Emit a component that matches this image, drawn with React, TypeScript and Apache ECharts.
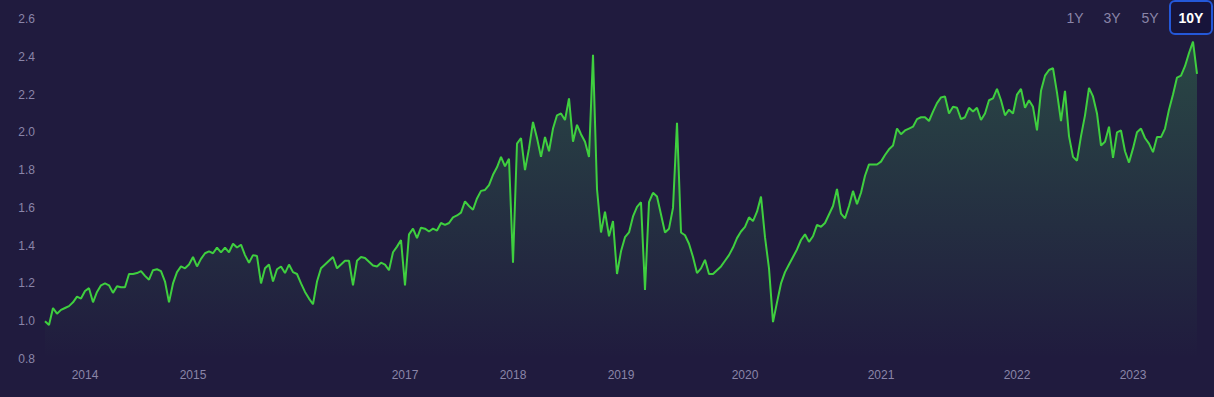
import React, { useEffect, useRef } from 'react';
import * as echarts from 'echarts';

const values: number[] = [
  1.0, 0.98, 1.07, 1.04, 1.06, 1.07, 1.08, 1.10, 1.13, 1.12,
  1.16, 1.175, 1.10, 1.155, 1.19, 1.20, 1.19, 1.15, 1.185, 1.18,
  1.18, 1.25, 1.25, 1.255, 1.265, 1.24, 1.22, 1.27, 1.275, 1.265,
  1.21, 1.10, 1.20, 1.26, 1.29, 1.28, 1.30, 1.34, 1.29, 1.33,
  1.36, 1.37, 1.36, 1.39, 1.365, 1.39, 1.365, 1.41, 1.39, 1.405,
  1.35, 1.31, 1.35, 1.345, 1.20, 1.28, 1.30, 1.21, 1.275, 1.29,
  1.255, 1.30, 1.26, 1.25, 1.20, 1.155, 1.12, 1.09, 1.21, 1.28,
  1.30, 1.32, 1.34, 1.28, 1.30, 1.32, 1.32, 1.19, 1.32, 1.34,
  1.335, 1.315, 1.295, 1.29, 1.31, 1.30, 1.27, 1.365, 1.395, 1.43,
  1.19, 1.46, 1.49, 1.44, 1.495, 1.49, 1.475, 1.49, 1.48, 1.52,
  1.51, 1.52, 1.55, 1.56, 1.575, 1.635, 1.61, 1.59, 1.65, 1.69,
  1.695, 1.72, 1.775, 1.815, 1.87, 1.82, 1.86, 1.31, 1.94, 1.97,
  1.80, 1.915, 2.055, 1.97, 1.87, 1.975, 1.90, 2.02, 2.09, 2.10,
  2.065, 2.18, 1.95, 2.04, 1.99, 1.95, 1.87, 2.41, 1.70, 1.47,
  1.58, 1.45, 1.53, 1.25, 1.37, 1.445, 1.47, 1.555, 1.605, 1.63,
  1.165, 1.63, 1.68, 1.66, 1.565, 1.47, 1.49, 1.60, 2.05, 1.47,
  1.455, 1.41, 1.34, 1.255, 1.28, 1.325, 1.25, 1.25, 1.27, 1.29,
  1.32, 1.35, 1.39, 1.44, 1.475, 1.50, 1.55, 1.53, 1.58, 1.66,
  1.445, 1.28, 0.995, 1.10, 1.20, 1.26, 1.30, 1.34, 1.38, 1.43,
  1.46, 1.42, 1.45, 1.51, 1.50, 1.52, 1.565, 1.61, 1.70, 1.57,
  1.545, 1.61, 1.69, 1.62, 1.68, 1.77, 1.83, 1.83, 1.83, 1.845,
  1.88, 1.91, 1.93, 2.02, 1.99, 2.01, 2.02, 2.03, 2.07, 2.08,
  2.08, 2.06, 2.11, 2.155, 2.185, 2.19, 2.10, 2.135, 2.13, 2.07,
  2.08, 2.13, 2.11, 2.13, 2.065, 2.10, 2.17, 2.18, 2.23, 2.17,
  2.09, 2.12, 2.10, 2.20, 2.23, 2.13, 2.17, 2.135, 2.01, 2.22,
  2.30, 2.33, 2.34, 2.21, 2.06, 2.22, 1.98, 1.87, 1.85, 1.98,
  2.09, 2.235, 2.19, 2.10, 1.93, 1.95, 2.03, 1.865, 2.00, 2.01,
  1.90, 1.84, 1.915, 2.00, 2.02, 1.97, 1.94, 1.895, 1.975, 1.975,
  2.02, 2.12, 2.20, 2.29, 2.30, 2.35, 2.42, 2.48, 2.31,
];

// Year tick labels and the sample index where each year starts
const yearLabels = ['2014', '2015', '2017', '2018', '2019', '2020', '2021', '2022', '2023'];
const yearIndices = [10, 37, 90, 117, 144, 175, 209, 243, 272];

// Range selector buttons
const rangeButtons = ['1Y', '3Y', '5Y', '10Y'];
const selectedRange = '10Y';

const categories = values.map((_, i) => `p${i}`);

const BG = '#201b3e';
const LABEL = '#8a85a8';
const GREEN = '#3fcf3f';
const FONT = "'Liberation Sans', Arial, Helvetica, sans-serif";

export default function App() {
  const ref = useRef<HTMLDivElement>(null);

  useEffect(() => {
    document.body.style.margin = '0';
    document.body.style.background = BG;
    const chart = echarts.init(ref.current!, null, { renderer: 'svg' });
    const labelAt = new Map<number, string>(yearIndices.map((idx, k) => [idx, yearLabels[k]]));
    const buttonCenters = [1075, 1112, 1150, 1191];

    const graphics: any[] = [];
    rangeButtons.forEach((b, k) => {
      const sel = b === selectedRange;
      if (sel) {
        graphics.push({
          type: 'rect',
          shape: { x: 1170, y: 1, width: 42, height: 33, r: 5 },
          style: { fill: '#17143a', stroke: '#2458d8', lineWidth: 2 },
          z: 10,
        });
      }
      graphics.push({
        type: 'text',
        x: buttonCenters[k],
        y: 17.5,
        z: 11,
        style: {
          text: b,
          fill: sel ? '#ffffff' : LABEL,
          font: `${sel ? 'bold ' : ''}14px ${FONT}`,
          textAlign: 'center',
          textVerticalAlign: 'middle',
        },
      });
    });

    chart.setOption({
      animation: false,
      backgroundColor: BG,
      textStyle: { fontFamily: FONT },
      grid: { left: 45, right: 17, top: 19, bottom: 38 },
      xAxis: {
        type: 'category',
        data: categories,
        boundaryGap: false,
        axisLine: { show: false },
        axisTick: { show: false },
        splitLine: { show: false },
        axisLabel: {
          interval: (i: number) => labelAt.has(i),
          formatter: (_v: string, i: number) => labelAt.get(i) ?? '',
          color: LABEL,
          fontSize: 12,
          margin: 10,
          fontFamily: FONT,
        },
      },
      yAxis: {
        type: 'value',
        min: 0.8,
        max: 2.6,
        interval: 0.2,
        axisLine: { show: false },
        axisTick: { show: false },
        splitLine: { show: false },
        axisLabel: {
          formatter: (v: number) => v.toFixed(1),
          color: LABEL,
          fontSize: 12,
          margin: 10,
          fontFamily: FONT,
        },
      },
      series: [
        {
          type: 'line',
          data: values,
          showSymbol: false,
          symbol: 'none',
          lineStyle: { color: GREEN, width: 2 },
          itemStyle: { color: GREEN },
          areaStyle: {
            color: new echarts.graphic.LinearGradient(0, 0, 0, 1, [
              { offset: 0, color: 'rgba(70, 205, 90, 0.36)' },
              { offset: 1, color: 'rgba(70, 205, 90, 0.0)' },
            ]),
          },
        },
      ],
      graphic: graphics,
    });

    return () => chart.dispose();
  }, []);

  return <div ref={ref} style={{ width: 1214, height: 397, background: BG }} />;
}
